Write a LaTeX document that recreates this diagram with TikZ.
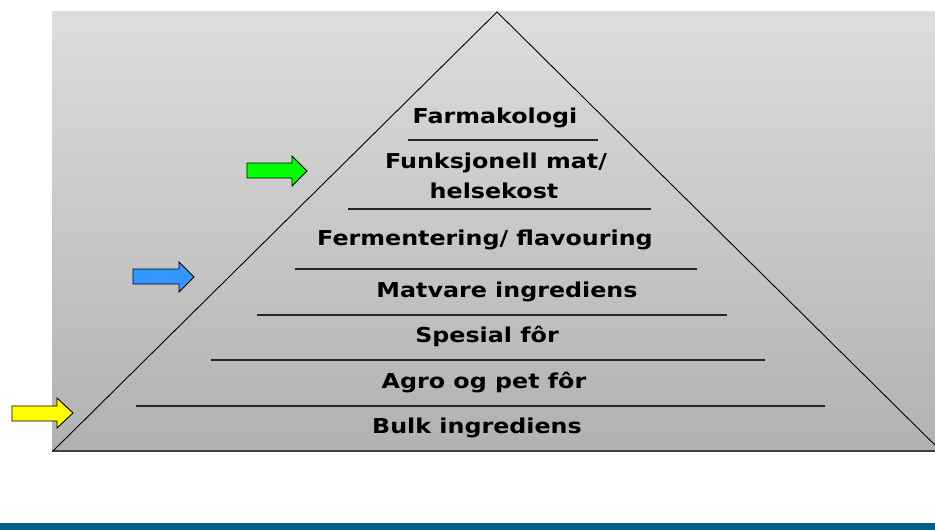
\documentclass[tikz,border=0pt]{standalone}
\usepackage{fontspec}
\setmainfont{DejaVu Sans}
\newfontfamily\lblfont[FakeStretch=1.16]{DejaVu Sans}
\definecolor{bgtop}{RGB}{221,221,221}
\definecolor{bgbot}{RGB}{177,177,177}
\definecolor{barblue}{RGB}{0,94,135}
\definecolor{arrblue}{RGB}{51,153,255}
\definecolor{arrgreen}{RGB}{0,255,0}
\definecolor{arryellow}{RGB}{255,255,0}
\tikzset{
  lbl/.style={anchor=base, inner sep=0pt, font=\lblfont\bfseries\fontsize{20.5}{24}\selectfont, text=black},
  tier/.style={line width=1.4pt, draw=black!85},
  blockarrow/.style={draw=black, line width=0.9pt, line join=miter},
}
\begin{document}
\begin{tikzpicture}[x=1pt,y=-1pt]
\useasboundingbox (0,0) rectangle (935,530);
% background panel
\shade[top color=bgtop, bottom color=bgbot] (52,11) rectangle (935,451);
\draw[line width=2pt, draw=black!75] (52,451) -- (935,451);
% pyramid
\begin{scope}
\clip (52,0) rectangle (935,451);
\coordinate (apex) at (497,12);
\coordinate (bl) at (53,451);
\coordinate (br) at (941,451);
\draw[line width=0.9pt] (bl) -- (apex) -- (br);
\end{scope}
% tier lines
\draw[tier] (408,140) -- (598,140);
\draw[tier] (348,209) -- (651,209);
\draw[tier] (295,269) -- (697,269);
\draw[tier] (257,315) -- (727,315);
\draw[tier] (211,360) -- (765,360);
\draw[tier] (136,406) -- (825,406);
% labels
\node[lbl] (farm) at (495,123) {Farmakologi};
\node[lbl] (funk) at (496,168) {Funksjonell mat/};
\node[lbl] (hels) at (494,198) {helsekost};
\node[lbl] (ferm) at (485,245) {Fermentering/ flavouring};
\node[lbl] (matv) at (507,297) {Matvare ingrediens};
\node[lbl] (spes) at (487,342) {Spesial fôr};
\node[lbl] (agro) at (484,388) {Agro og pet fôr};
\node[lbl] (bulk) at (477,433) {Bulk ingrediens};
% block arrows
\draw[blockarrow, fill=arrgreen] (247,163) -- (292,163) -- (292,156) -- (307,171) -- (292,186) -- (292,178) -- (247,178) -- cycle;
\draw[blockarrow, fill=arrblue] (133,269) -- (179,269) -- (179,262) -- (194,277) -- (179,292) -- (179,284) -- (133,284) -- cycle;
\draw[blockarrow, fill=arryellow] (12,406) -- (57,406) -- (57,398) -- (73,413) -- (57,428) -- (57,421) -- (12,421) -- cycle;
% bottom bar
\fill[barblue] (0,523) rectangle (935,530);
\end{tikzpicture}
\end{document}
